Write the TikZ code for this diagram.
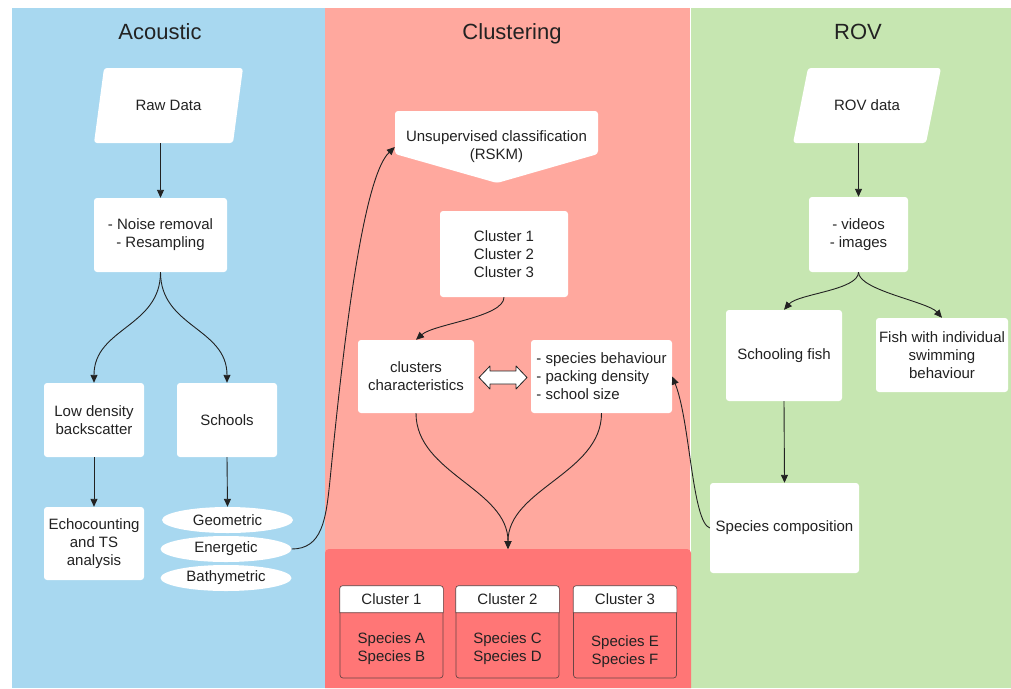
\documentclass[tikz,border=0pt]{standalone}
\usepackage{fontspec}
\setmainfont{Liberation Sans}
\usetikzlibrary{arrows.meta,shapes.geometric}
\definecolor{bluebg}{HTML}{A8D8F0}
\definecolor{redbg}{HTML}{FFA89E}
\definecolor{darkred}{HTML}{FF7676}
\definecolor{greenbg}{HTML}{C6E6B1}
\definecolor{txt}{HTML}{222222}
\definecolor{cardline}{HTML}{6A4545}
\begin{document}
\begin{tikzpicture}[x=1pt,y=-1pt,
  every node/.style={text=txt, font=\fontsize{15}{18}\selectfont, inner sep=0pt, align=center},
  wbox/.style={fill=white, rounded corners=3pt},
  title/.style={font=\fontsize{22}{26}\selectfont, anchor=base},
  conn/.style={draw=txt, line width=0.9pt, -{Triangle[length=8pt,width=7pt]}},
  oval/.style={ellipse, fill=white, minimum width=131pt, minimum height=26pt},
  card/.style={fill=darkred, draw=cardline, line width=0.7pt, rounded corners=3pt, minimum width=103pt, minimum height=92pt},
  shapefill/.style={fill=white, rounded corners=3pt}]
\useasboundingbox[fill=white] (0,0) rectangle (1011,688);
% panels
\fill[bluebg] (12,8) rectangle (325,688);
\fill[redbg] (325,8) rectangle (690,688);
\fill[greenbg] (691,8) rectangle (1011,688);
\fill[darkred] (325,688) [rounded corners=4pt] -- (325,549) -- (691,549) [sharp corners] -- (691,688) -- cycle;
% titles
\node[title] (tA) at (160,39) {Acoustic};
\node[title] (tC) at (512,39) {Clustering};
\node[title] (tR) at (858,39) {ROV};

% ---------- Acoustic
\fill[shapefill] (104,68) -- (243,68) -- (233,143) -- (94,143) -- cycle;
\node[minimum width=139pt, minimum height=75pt] (raw) at (168.5,105.5) {Raw Data};
\node[wbox, minimum width=133pt, minimum height=74pt] (noise) at (160.5,235) {- Noise removal\\- Resampling};
\node[wbox, minimum width=100pt, minimum height=74pt] (low) at (94,420) {Low density\\backscatter};
\node[wbox, minimum width=100pt, minimum height=74pt] (schools) at (227,420) {Schools};
\node[wbox, minimum width=100pt, minimum height=73pt] (echo) at (94,543.5) {Echocounting\\and TS\\analysis};
\node[oval] (geo) at (227.5,520) {Geometric};
\node[oval] (ener) at (226,549) {Energetic};
\node[oval] (bathy) at (226,578) {Bathymetric};

\draw[conn] (raw.south -| noise.north) -- (noise.north);
\draw[conn] (noise.south) .. controls +(0,55) and +(0,-55) .. (low.north);
\draw[conn] (noise.south) .. controls +(0,55) and +(0,-55) .. (schools.north);
\draw[conn] (low.south) -- (echo.north);
\draw[conn] (schools.south) -- (geo.north);

% ---------- Clustering
\fill[shapefill] (395,111) -- (598,111) -- (598,154) -- (497,183) -- (395,154) -- cycle;
\node[minimum width=203pt, minimum height=72pt] (unsup) at (496.5,147) {Unsupervised classification\\(RSKM)};
\node[wbox, minimum width=128pt, minimum height=86pt] (clist) at (504,254) {Cluster 1\\Cluster 2\\Cluster 3};
\node[wbox, minimum width=116pt, minimum height=73pt] (cchar) at (416,376.5) {clusters\\characteristics};
\node[wbox, minimum width=141pt, minimum height=73pt, align=left] (species) at (601.5,376.5) {- species behaviour\\- packing density\\- school size};
\draw[fill=white, draw=txt, line width=0.8pt, line join=round]
  (479,377.5) -- (490,366) -- (490,371) -- (516,371) -- (516,366) -- (527,377.5)
  -- (516,389) -- (516,384) -- (490,384) -- (490,389) -- cycle;
\coordinate (merge) at (508,549);

\draw[conn] (clist.south) .. controls +(0,20) and +(18,-16) .. (cchar.north);
\draw[conn] (cchar.south) .. controls +(0,60) and +(0,-60) .. (merge);
\draw[conn] (species.south) .. controls +(0,60) and +(0,-60) .. (merge);
\draw[conn] (ener.east) .. controls (322,549) and (326,520) .. (330,480)
  .. controls (340,380) and (360,180) .. (unsup.west);

% cluster cards
\node[card] (c1) at (391.5,632) {};
\node[card] (c2) at (507.5,632) {};
\node[card] (c3) at (625,632) {};
\path[fill=white, draw=cardline, line width=0.7pt] ([yshift=-27pt]c1.north west) [rounded corners=3pt] -- (c1.north west) -- (c1.north east) [sharp corners] -- ([yshift=-27pt]c1.north east) -- cycle;
\path[fill=white, draw=cardline, line width=0.7pt] ([yshift=-27pt]c2.north west) [rounded corners=3pt] -- (c2.north west) -- (c2.north east) [sharp corners] -- ([yshift=-27pt]c2.north east) -- cycle;
\path[fill=white, draw=cardline, line width=0.7pt] ([yshift=-27pt]c3.north west) [rounded corners=3pt] -- (c3.north west) -- (c3.north east) [sharp corners] -- ([yshift=-27pt]c3.north east) -- cycle;
\node (h1) at (391.5,599) {Cluster 1};
\node (h2) at (507.5,599) {Cluster 2};
\node (h3) at (625,599) {Cluster 3};
\node (s1) at (391.5,649) {Species A\\Species B};
\node (s2) at (507.5,649) {Species C\\Species D};
\node (s3) at (625,652) {Species E\\Species F};

% ---------- ROV
\fill[shapefill] (808,68) -- (941,68) -- (926,143) -- (793,143) -- cycle;
\node[minimum width=133pt, minimum height=75pt] (rovd) at (867,105.5) {ROV data};
\node[wbox, minimum width=99pt, minimum height=75pt] (vid) at (858.5,234.5) {- videos\\- images};
\node[wbox, minimum width=116pt, minimum height=91pt] (school) at (784,355.5) {Schooling fish};
\node[wbox, minimum width=132pt, minimum height=74pt] (fishind) at (942,355) {Fish with individual\\swimming\\behaviour};
\node[wbox, minimum width=149pt, minimum height=90pt] (spcomp) at (784.5,528) {Species composition};

\draw[conn] (rovd.south -| vid.north) -- (vid.north);
\draw[conn] (vid.south) .. controls +(0,18) and +(14,-16) .. (school.north);
\draw[conn] (vid.south) .. controls +(0,18) and +(-14,-16) .. (fishind.north);
\draw[conn] (school.south) -- (spcomp.north);
\draw[conn] (spcomp.west) .. controls (692,522) and (690,420) .. (species.east);
\end{tikzpicture}
\end{document}
